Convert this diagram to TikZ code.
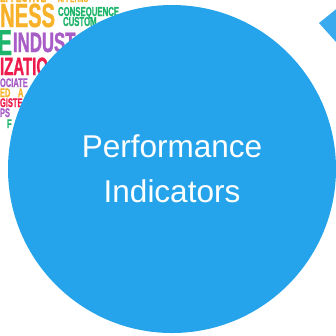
\documentclass[tikz,border=0pt]{standalone}
\usepackage{fontspec}
\setmainfont{Liberation Sans}
\newfontfamily\cloudfont[FakeStretch=0.6,FakeBold=1]{Liberation Sans}
\definecolor{circblue}{RGB}{38,164,235}
\definecolor{triblue}{RGB}{58,170,238}
\definecolor{cOrange}{RGB}{247,178,42}
\definecolor{cGreen}{RGB}{30,180,105}
\definecolor{cPurple}{RGB}{168,92,198}
\definecolor{cRed}{RGB}{238,27,77}
\tikzset{
  cw/.style={inner sep=0pt,outer sep=0pt,anchor=base west,text depth=0pt,
    font=\cloudfont\bfseries\fontsize{#1}{#1}\selectfont},
  cwe/.style={cw=#1,anchor=base east},
  bigcircle/.style={circle,fill=circblue,draw=none,minimum size=328pt,
    inner sep=0pt,text=white,align=center,
    font=\fontsize{31.5}{45}\selectfont},
}
\begin{document}
\begin{tikzpicture}[x=1pt,y=-1pt]
\useasboundingbox (0,0) rectangle (336,335);
\clip (0,0) rectangle (336,335);
% word cloud
\node[cw=14,text=cOrange] (w0) at (0,2) {EFFECTIVE};
\node[cw=10,text=cOrange] (w1) at (58,2) {APPLYING};
\node[cwe=33.5,text=cOrange] (w2) at (55,27) {NESS};
\node[cw=13,text=cGreen] (w3) at (58,16) {CONSEQUENCE};
\node[cw=13,text=cGreen] (w4) at (63,26) {CUSTOM};
\node[cwe=36,text=cGreen] (w5) at (12,55) {E};
\node[cw=28,text=cPurple] (w6) at (13,52) {INDUST};
\node[cw=25,text=cRed] (w7) at (0,75) {IZATIO};
\node[cw=12.5,text=cPurple] (w8) at (0,87) {OCIATE};
\node[cw=12.5,text=cOrange] (w9) at (0,97) {ED};
\node[cw=12.5,text=cOrange] (w10) at (18,97) {A};
\node[cw=12.5,text=cRed] (w11) at (0,107) {GISTE};
\node[cw=12.5,text=cPurple] (w12) at (0,117) {PS};
\node[cw=12.5,text=cGreen] (w13) at (7,128) {F};
% top-right shape
\fill[triblue] (319,23) -- (345,2) -- (345,52) -- cycle;
% main circle
\node[bigcircle] (pi) at (172,169) {Performance\\Indicators};
\end{tikzpicture}
\end{document}
